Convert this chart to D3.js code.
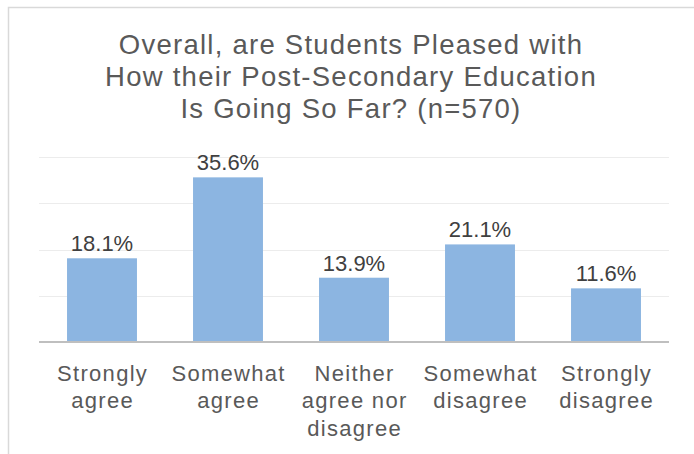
<!DOCTYPE html>
<html>
<head>
<meta charset="utf-8">
<script src="https://cdn.jsdelivr.net/npm/d3@7"></script>
<style>
  body { margin: 0; background: #fff; }
  svg text { font-family: "Liberation Sans", Arial, sans-serif; }
</style>
</head>
<body>
<div id="chart"></div>
<script>
// chart data
var categories = ["Strongly agree", "Somewhat agree", "Neither agree nor disagree", "Somewhat disagree", "Strongly disagree"];
var categoryLines = [["Strongly", "agree"], ["Somewhat", "agree"], ["Neither", "agree nor", "disagree"], ["Somewhat", "disagree"], ["Strongly", "disagree"]];
var values = [18.1, 35.6, 13.9, 21.1, 11.6];
var yTicks = [0, 10, 20, 30, 40];
var titleLines = ["Overall, are Students Pleased with", "How their Post-Secondary Education", "Is Going So Far? (n=570)"];

var W = 694, H = 454;
var margin = { top: 157, right: 25, bottom: 112, left: 39 };
var w = W - margin.left - margin.right,
    h = H - margin.top - margin.bottom;

var svg = d3.select("#chart").append("svg").attr("width", W).attr("height", H);

// outer chart frame (cropped at right/bottom)
svg.append("rect").attr("x", 8.5).attr("y", 7.5).attr("width", 720).attr("height", 480)
  .attr("fill", "#fff").attr("stroke", "#d9d9d9").attr("stroke-width", 1.5);

// title
var title = svg.append("text").attr("text-anchor", "middle").attr("fill", "#595959")
  .attr("font-size", "27.5px").attr("letter-spacing", "1.25px");
title.selectAll("tspan").data(titleLines).enter().append("tspan")
  .attr("x", 351).attr("y", function(d, i) { return 54.3 + i * 31.7; })
  .text(function(d) { return d; });

var g = svg.append("g").attr("transform", "translate(" + margin.left + "," + margin.top + ")");

var x = d3.scaleBand().domain(categories).range([0, w]).paddingInner(0.445).paddingOuter(0.2225);
var y = d3.scaleLinear().domain([0, 40]).range([h, 0]);

// gridlines
g.append("g").selectAll("line").data(yTicks.slice(1)).enter().append("line")
  .attr("x1", 0).attr("x2", w)
  .attr("y1", function(d) { return Math.round(y(d)) + 0.5; })
  .attr("y2", function(d) { return Math.round(y(d)) + 0.5; })
  .attr("stroke", "#ececec").attr("stroke-width", 1.2);

// bars
g.append("g").selectAll("rect").data(values).enter().append("rect")
  .attr("x", function(d, i) { return x(categories[i]); })
  .attr("y", function(d) { return y(d); })
  .attr("width", x.bandwidth())
  .attr("height", function(d) { return h - y(d); })
  .attr("fill", "#8cb5e1");

// axis line
g.append("line").attr("x1", 0).attr("x2", w).attr("y1", h).attr("y2", h)
  .attr("stroke", "#bfbfbf").attr("stroke-width", 2.2);

// data labels
g.append("g").selectAll("text").data(values).enter().append("text")
  .attr("x", function(d, i) { return x(categories[i]) + x.bandwidth() / 2; })
  .attr("y", function(d) { return y(d) - 7; })
  .attr("text-anchor", "middle").attr("fill", "#404040").attr("font-size", "22px")
  .text(function(d) { return d3.format(".1f")(d) + "%"; });

// category labels
var cl = g.append("g").selectAll("text").data(categoryLines).enter().append("text")
  .attr("text-anchor", "middle").attr("fill", "#595959").attr("font-size", "22px")
  .attr("letter-spacing", "1.3px")
  .attr("transform", function(d, i) { return "translate(" + (x(categories[i]) + x.bandwidth() / 2 + 0.6) + "," + (h + 39) + ")"; });
cl.selectAll("tspan").data(function(d) { return d; }).enter().append("tspan")
  .attr("x", 0).attr("y", function(d, i) { return i * 27.3; })
  .text(function(d) { return d; });
</script>
</body>
</html>
